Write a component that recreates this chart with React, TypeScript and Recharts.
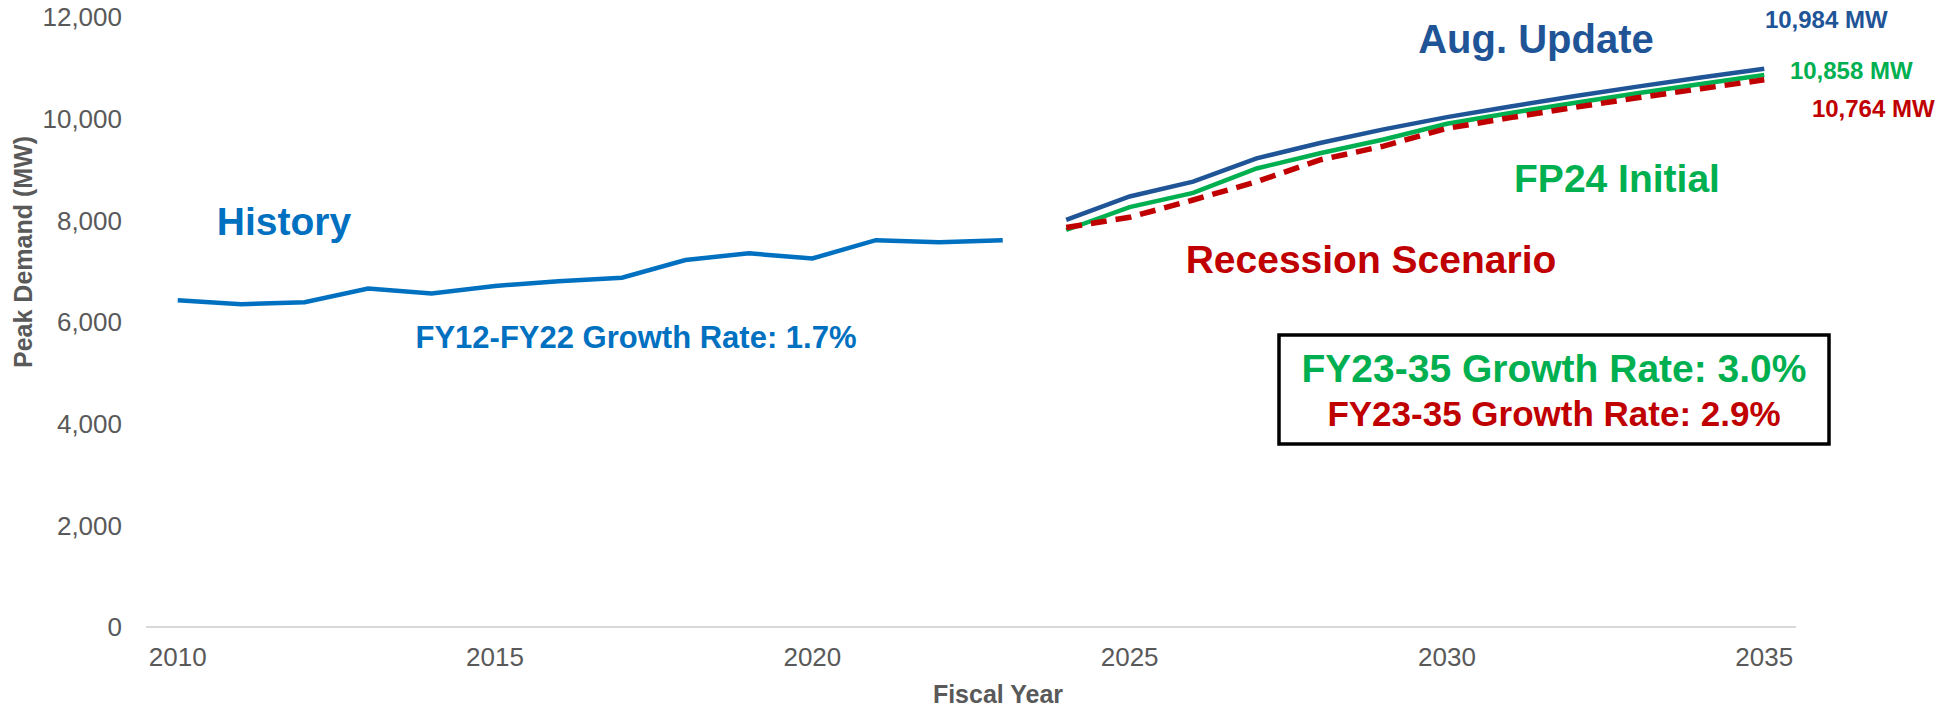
import React from 'react';
import { LineChart, Line, XAxis, YAxis } from 'recharts';

const years = [2010, 2011, 2012, 2013, 2014, 2015, 2016, 2017, 2018, 2019, 2020, 2021, 2022, 2023,
  2024, 2025, 2026, 2027, 2028, 2029, 2030, 2031, 2032, 2033, 2034, 2035];
const history = [6430, 6350, 6390, 6660, 6560, 6710, 6800, 6870, 7220, 7350, 7250, 7610, 7570, 7610];
const augUpdate = [8010, 8470, 8760, 9220, 9520, 9790, 10030, 10240, 10440, 10630, 10810, 10984];
const fp24Initial = [7810, 8260, 8540, 9020, 9320, 9590, 9900, 10110, 10310, 10500, 10680, 10858];
const recession = [7860, 8060, 8400, 8760, 9190, 9460, 9810, 10020, 10220, 10410, 10590, 10764];
const yTicks = [0, 2000, 4000, 6000, 8000, 10000, 12000];
const xTicks = [2010, 2015, 2020, 2025, 2030, 2035];

const FONT = '"Liberation Sans", Arial, sans-serif';
const C_HIST = '#0070C0';
const C_AUG = '#1F5597';
const C_FP = '#00B050';
const C_REC = '#C00000';
const GRAY = '#595959';

const nHist = history.length;
const data = years.map((year, i) => ({
  year,
  history: i < nHist ? history[i] : null,
  aug: i >= nHist ? augUpdate[i - nHist] : null,
  fp24: i >= nHist ? fp24Initial[i - nHist] : null,
  rec: i >= nHist ? recession[i - nHist] : null,
}));

const fmt = (v: number) => v.toLocaleString('en-US');

// label only the last point of a series
const endLabel = (color: string, dx: number, dy: number) => (props: any) => {
  const { x, y, index, value } = props;
  if (index !== years.length - 1) return null;
  return (
    <text x={x + dx} y={y + dy} textAnchor="middle" dominantBaseline="central"
      fill={color} fontSize={24} fontWeight="bold" fontFamily={FONT}>
      {`${fmt(value)} MW`}
    </text>
  );
};

export default function App() {
  const t = { fontFamily: FONT, fontWeight: 'bold' as const, textAnchor: 'middle' as const };
  return (
    <div style={{ position: 'absolute', left: 0, top: 0, width: 1955, height: 709, background: '#fff' }}>
      <LineChart width={1955} height={709} data={data}
        margin={{ top: 17, right: 159, bottom: 22, left: 0 }}>
        <XAxis dataKey="year" type="number" domain={[2009.5, 2035.5]} allowDataOverflow
          ticks={xTicks} interval={0} height={60} tickLine={false} tickSize={0} tickMargin={21}
          axisLine={{ stroke: '#D9D9D9', strokeWidth: 2 }}
          tick={{ fill: GRAY, fontSize: 26, fontFamily: FONT }} />
        <YAxis domain={[0, 12000]} ticks={yTicks} width={146} axisLine={false}
          tickLine={false} tickSize={0} tickMargin={24} tickFormatter={fmt}
          tick={{ fill: GRAY, fontSize: 26, fontFamily: FONT }} />
        <Line dataKey="history" stroke={C_HIST} strokeWidth={4.5} dot={false}
          isAnimationActive={false} connectNulls={false} />
        <Line dataKey="aug" stroke={C_AUG} strokeWidth={4.5} dot={false}
          isAnimationActive={false} label={endLabel(C_AUG, 62, -49)} />
        <Line dataKey="fp24" stroke={C_FP} strokeWidth={4.5} dot={false}
          isAnimationActive={false} label={endLabel(C_FP, 87, -5)} />
        <Line dataKey="rec" stroke={C_REC} strokeWidth={5.5} strokeDasharray="16 9" dot={false}
          isAnimationActive={false} label={endLabel(C_REC, 109, 29)} />
      </LineChart>
      <svg width={1955} height={709} style={{ position: 'absolute', left: 0, top: 0, pointerEvents: 'none' }}>
        <text {...t} x={23} y={252} fontSize={25} fill={GRAY} dominantBaseline="central"
          transform="rotate(-90 23 252)">Peak Demand (MW)</text>
        <text {...t} x={998} y={703} fontSize={25} fill={GRAY}>Fiscal Year</text>
        <text {...t} x={284} y={235} fontSize={39} fill={C_HIST}>History</text>
        <text {...t} x={636} y={348} fontSize={31} fill={C_HIST}>FY12-FY22 Growth Rate: 1.7%</text>
        <text {...t} x={1536} y={53} fontSize={40} fill={C_AUG}>Aug. Update</text>
        <text {...t} x={1617} y={192} fontSize={39} fill={C_FP}>FP24 Initial</text>
        <text {...t} x={1371} y={273} fontSize={39} fill={C_REC}>Recession Scenario</text>
        <rect x={1279} y={335} width={550} height={109} fill="#fff" stroke="#000" strokeWidth={3.5} />
        <text {...t} x={1554} y={382} fontSize={39} fill={C_FP}>FY23-35 Growth Rate: 3.0%</text>
        <text {...t} x={1554} y={426} fontSize={35} fill={C_REC}>FY23-35 Growth Rate: 2.9%</text>
      </svg>
    </div>
  );
}
